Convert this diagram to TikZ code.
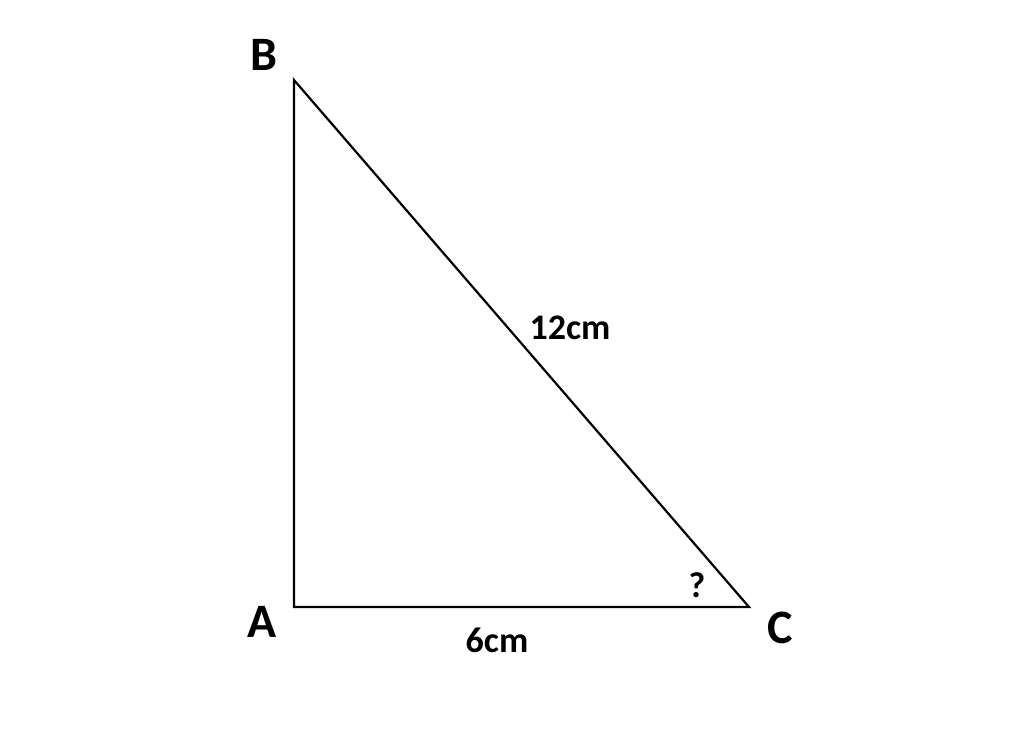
\documentclass[tikz,border=0pt]{standalone}
\usepackage{fontspec}
\setmainfont{Carlito}

\begin{document}
\begin{tikzpicture}[
  x = 0.5pt, y = -0.5pt,
  every node/.style = {font = \bfseries},
  vertex/.style = {font = \bfseries\fontsize{24}{24}\selectfont},
  length/.style = {font = \bfseries\fontsize{18}{18}\selectfont},
  ]
  \useasboundingbox (0,0) rectangle (1024,736);
  \coordinate (A) at (294,607);
  \coordinate (B) at (294,80);
  \coordinate (C) at (749,607);
  \draw[line width = 1.1pt, line join = miter] (A) -- (B) -- (C) -- cycle;
  \node[vertex] (nA) at (262,622) {A};
  \node[vertex] (nB) at (264,55) {B};
  \node[vertex] (nC) at (780,628) {C};
  \node[length] (hyp) at (570,328) {12cm};
  \node[length] (base) at (497,640) {6cm};
  \node[length] (ang) at (697,585) {?};
\end{tikzpicture}
\end{document}
